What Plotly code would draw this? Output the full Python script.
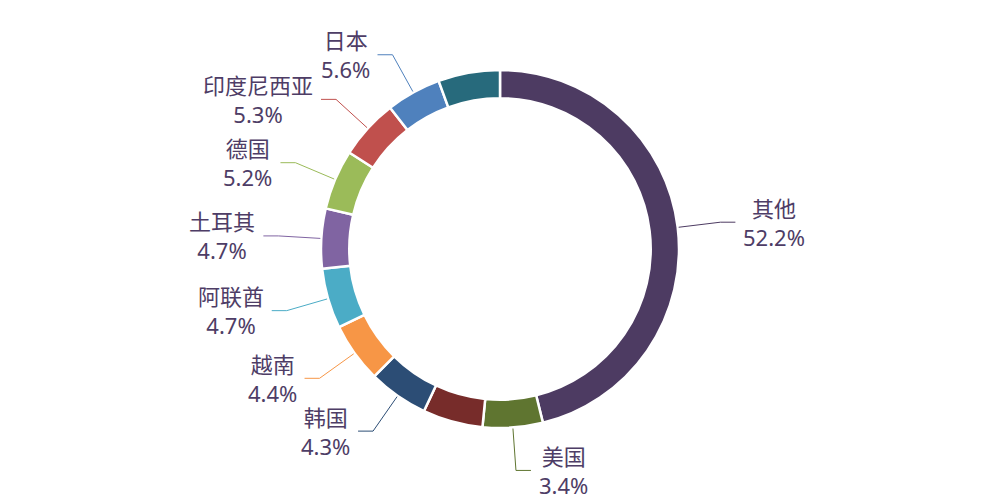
import math
import plotly.graph_objects as go

# ---- data ----
names = ["其他", "美国", "未标注A", "韩国", "越南", "阿联酋", "土耳其", "德国", "印度尼西亚", "日本", "未标注B"]
shares = [52.2, 3.4, 3.9, 4.3, 4.4, 4.7, 4.7, 5.2, 5.3, 5.6, 6.3]
show_label = [True, True, False, True, True, True, True, True, True, True, False]
colors = ["#4D3B62", "#5F7530", "#772C2A", "#2C4D75", "#F79646", "#4BACC6",
          "#8064A2", "#9BBB59", "#C0504D", "#4F81BD", "#276A7C"]

# ---- display settings ----
W, H = 1000, 500
CX, CY, R = 500, 249, 179
HOLE = 0.842
MIN_ANGLE = 19.5          # minimum slice angle (deg), like a min-angle pie option
LINE1 = 43                # radial leader length beyond outer radius
LINE2 = 15                # horizontal leader length
GAP = 7
FS = 22
TEXT_COLOR = "#4e3d66"
FONT = "Noto Sans, Noto Sans CJK SC"

# slice display sizes with minimum angle rule
total = sum(shares)
angles = [s / total * 360 for s in shares]
small = [a < MIN_ANGLE for a in angles]
rest = 360 - MIN_ANGLE * sum(small)
big_total = sum(a for a, sm in zip(angles, small) if not sm)
disp = [MIN_ANGLE if sm else a / big_total * rest for a, sm in zip(angles, small)]

fig = go.Figure(go.Pie(
    labels=names, values=disp, sort=False, direction="clockwise", rotation=0,
    hole=HOLE, textinfo="none", hoverinfo="skip",
    marker=dict(colors=colors, line=dict(color="white", width=2.5)),
    domain=dict(x=[(CX - R) / W, (CX + R) / W], y=[(H - CY - R) / H, (H - CY + R) / H]),
    showlegend=False,
))

def px(x, y):
    return x / W, 1 - y / H

shapes, annotations = [], []
cum = 0.0
tot_disp = sum(disp)
for name, s, show, col, d in zip(names, shares, show_label, colors, disp):
    a0 = cum / tot_disp * 360
    cum += d
    a1 = cum / tot_disp * 360
    if not show:
        continue
    th = math.radians((a0 + a1) / 2)
    sx, sy = CX + (R + 1) * math.sin(th), CY - (R + 1) * math.cos(th)
    cx_, cy_ = CX + (R + LINE1) * math.sin(th), CY - (R + LINE1) * math.cos(th)
    right = math.sin(th) >= 0
    ex = cx_ + (LINE2 if right else -LINE2)
    ey = cy_
    p0, p1, p2 = px(sx, sy), px(cx_, cy_), px(ex, ey)
    shapes.append(dict(type="path", xref="paper", yref="paper",
                       path=f"M {p0[0]},{p0[1]} L {p1[0]},{p1[1]} L {p2[0]},{p2[1]}",
                       line=dict(color=col, width=1)))
    pct = f"{s:.1f}%"
    xp, yp = px(ex + (GAP if right else -GAP), ey)
    annotations.append(dict(text=f"{name}<br>{pct}", x=xp, y=yp, xref="paper", yref="paper",
                            showarrow=False, align="center", borderpad=0,
                            xanchor="left" if right else "right", yanchor="middle",
                            font=dict(size=FS, color=TEXT_COLOR, family=FONT)))

fig.update_layout(width=W, height=H, margin=dict(l=0, r=0, t=0, b=0),
                  paper_bgcolor="white", plot_bgcolor="white",
                  shapes=shapes, annotations=annotations)
fig.write_html("out.html")
